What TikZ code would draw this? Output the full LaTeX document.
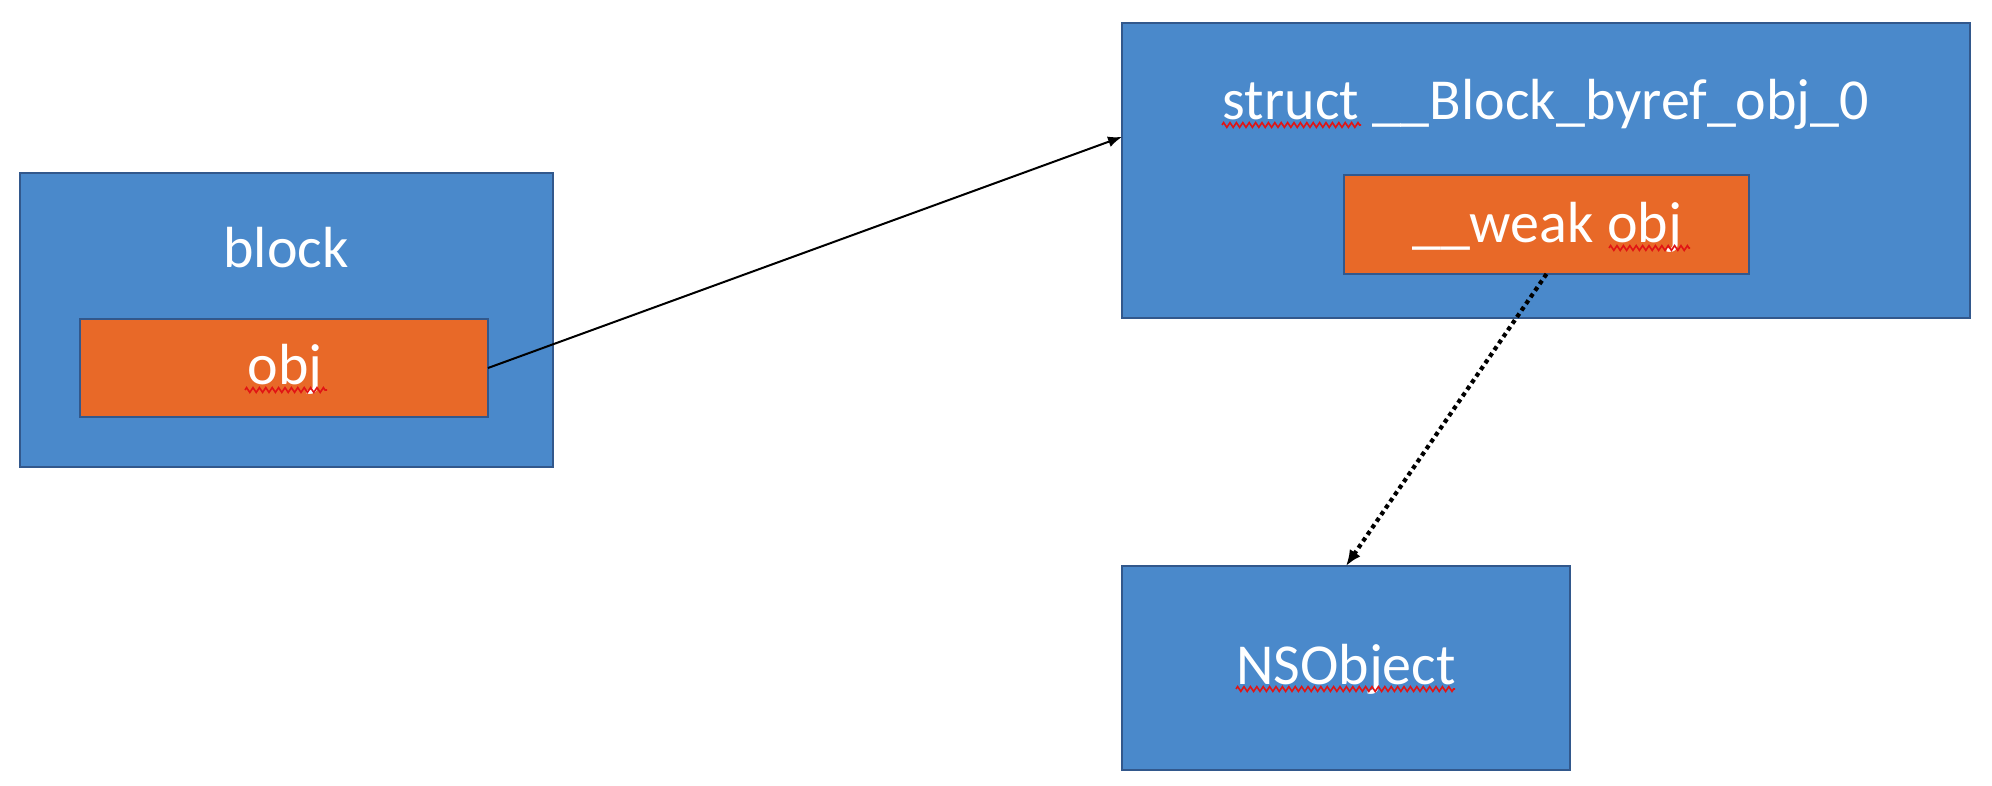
\documentclass[tikz,border=0pt]{standalone}
\usepackage{fontspec}
\setmainfont{Carlito}
\usetikzlibrary{arrows.meta,calc,decorations.pathmorphing}
\definecolor{boxblue}{RGB}{74,137,203}
\definecolor{boxedge}{RGB}{50,88,140}
\definecolor{boxorange}{RGB}{232,105,40}
\definecolor{squig}{RGB}{225,20,20}
\begin{document}
\begin{tikzpicture}[x=0.5pt,y=-0.5pt,
  bluebox/.style={draw=boxedge, line width=1.2pt, fill=boxblue, anchor=north west, inner sep=0pt, outer sep=0pt},
  orangebox/.style={draw=boxedge, line width=1.2pt, fill=boxorange, anchor=north west, inner sep=0pt, outer sep=0pt},
  lbl/.style={text=white, font=\fontsize{29}{35}\selectfont, anchor=base, inner sep=0pt},
  refarrow/.style={line width=1pt, -{Latex[length=7pt,width=5.5pt]}},
  weakarrow/.style={line width=2.1pt, dash pattern=on 2.1pt off 1.9pt, -{Latex[length=8pt,width=6.5pt]}},
  spell/.style={draw=squig, line width=0.8pt, decorate, decoration={zigzag, amplitude=1.2pt, segment length=3.2pt}}
]
\useasboundingbox (0,0) rectangle (1992,786);
\fill[white] (0,0) rectangle (1992,786);

% block
\node[bluebox, minimum width=266.5pt, minimum height=147pt] (blk) at (20,173) {};
\node[lbl] (blktitle) at (286,268) {block};
\node[orangebox, minimum width=204pt, minimum height=49pt] (objbox) at (80,319) {};
\node[lbl] (objtext) at (285,385) {obj};

% struct
\node[bluebox, minimum width=424pt, minimum height=147.5pt] (sbox) at (1122,23) {};
\node[lbl] (stitle) at (1546,120) {struct \_\_Block\_byref\_obj\_0};
\node[orangebox, minimum width=202.5pt, minimum height=49.5pt] (weak) at (1344,175) {};
\node[lbl] (weaktext) at (1547,243) {\_\_weak obj};

% NSObject
\node[bluebox, minimum width=224pt, minimum height=102pt] (ns) at (1122,566) {};
\node[lbl] (nstext) at (1346,684) {NSObject};

% spelling marks
\draw[spell] (245,390) -- (327,390);
\draw[spell] (1222,125) -- (1361,125);
\draw[spell] (1609,248) -- (1690,248);
\draw[spell] (1236,689) -- (1455,689);

% connectors
\coordinate (sin) at ($(sbox.north west)!0.386!(sbox.south west)$);
\draw[refarrow] (objbox.east) -- (sin);
\draw[weakarrow] (weak.south) -- (ns.north);
\end{tikzpicture}
\end{document}
